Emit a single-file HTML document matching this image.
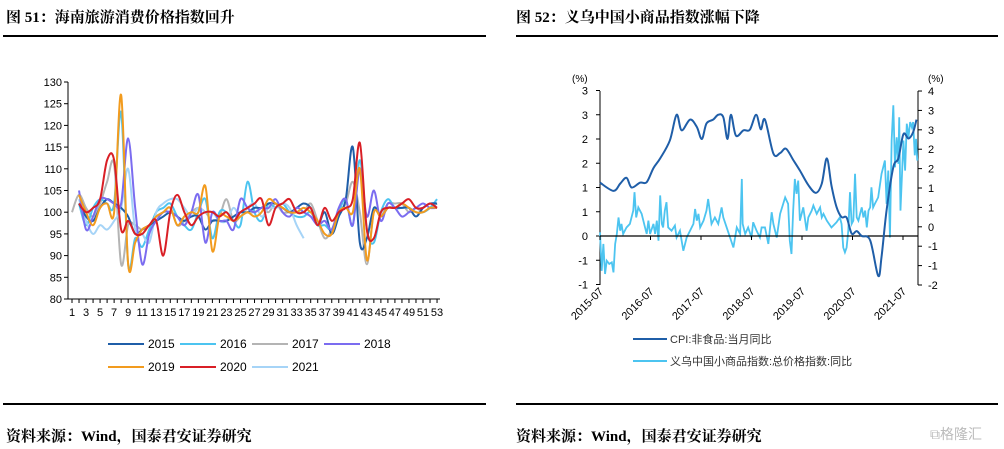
<!DOCTYPE html>
<html><head><meta charset="utf-8"><style>
body{margin:0;width:1004px;height:449px;background:#fff;overflow:hidden;font-family:"Liberation Sans","Noto Sans CJK SC",sans-serif}
.t{position:absolute;font-family:"Liberation Serif","Noto Serif CJK SC",serif;font-weight:bold;font-size:15px;color:#000}
.r{position:absolute;height:1.5px;background:#000}
</style></head><body>
<div class="t" style="left:6px;top:6px">图 51：海南旅游消费价格指数回升</div>
<div class="t" style="left:516px;top:6px">图 52：义乌中国小商品指数涨幅下降</div>
<div class="r" style="left:3px;top:35px;width:483px"></div>
<div class="r" style="left:516px;top:35px;width:482px"></div>
<div class="r" style="left:3px;top:403px;width:483px"></div>
<div class="r" style="left:516px;top:403px;width:482px"></div>
<div class="t" style="left:6px;top:425px">资料来源：Wind，国泰君安证券研究</div>
<div class="t" style="left:516px;top:425px">资料来源：Wind，国泰君安证券研究</div>
<div style="position:absolute;left:930px;top:424px;font-size:14px;color:#bbb">⧉格隆汇</div>
<svg id="c" width="1004" height="449" style="position:absolute;left:0;top:0"></svg>
<script>
const weeks=[];for(let i=1;i<=53;i++)weeks.push(i);
const s2015=[null,102,99,98,101,103,102,101,99,95,96,97,98,99,100,99,98,99,99,96,98,98,98,99,100,100,101,101,102,102,101,100,101,102,101,97,100,95,99,103,115,93,94,101,99,101,101,101,101,99,101,102,102];
const s2016=[null,102,97,101,103,102,102,123,88,94,92,96,100,101,102,99,97,96,100,103,94,100,100,98,97,107,100,98,102,101,102,100,99,99,100,97,97,96,100,103,97,112,96,93,100,103,101,101,101,100,100,101,103];
const s2017=[100,104,101,99,102,107,111,88,97,97,96,97,99,100,101,97,98,100,101,100,98,99,103,98,99,100,100,101,100,102,100,100,100,100,102,98,94,96,100,102,107,100,88,100,99,102,102,102,100,101,100,101,102];
const s2018=[null,105,96,99,103,103,102,102,117,101,88,95,98,100,100,99,97,100,104,93,100,98,98,96,103,101,100,101,101,103,100,99,101,100,99,97,98,96,101,103,97,110,99,105,98,102,101,99,100,101,102,101,101];
const s2019=[null,104,100,97,101,102,100,127,88,93,96,97,99,100,101,97,99,100,100,106,91,99,99,98,99,100,99,100,103,102,101,100,100,101,100,98,95,95,100,101,100,110,89,100,99,101,101,102,101,100,100,101,101];
const s2020=[null,102,100,101,103,112,112,96,98,95,95,97,98,90,100,104,100,97,99,100,100,99,100,98,100,101,102,103,97,101,102,103,100,100,101,97,101,98,100,101,103,116,96,94,100,101,101,102,103,101,101,102,101];
const s2021=[null,103,98,95,97,96,98,101,110,96,95,93,100,102,103,103,101,99,101,100,100,98,98,101,99,101,102,99,101,101,102,101,97,94];
const leftTicks=[80,85,90,95,100,105,110,115,120,125,130];
const cpiMonths=[0,3.2,4.8,6.3,7.5,9.5,11.1,12.7,14.3,16.6,18.2,19.4,21.4,23.0,24.2,25.3,26.9,28.1,29.3,30.3,31.1,32.3,34.1,35.6,37.1,38.2,39.2,41.2,42.8,44.2,45.9,47.5,49.5,51.3,52.7,53.9,55.0,56.2,57.4,58.6,59.8,61.0,62.2,64.2,66.1,66.9,68.1,69.7,70.9,72.1,73.3,74.4,75.2];
const cpiValues=[1.1,0.93,1.08,1.2,1.0,1.1,1.11,1.4,1.6,1.97,2.5,2.18,2.4,2.25,2.0,2.32,2.4,2.5,2.45,2.0,2.5,2.07,2.18,2.19,2.5,2.2,2.4,1.7,1.71,1.8,1.57,1.35,1.05,0.89,1.08,1.6,1.04,0.6,0.39,0.38,0.05,0.1,0,-0.09,-0.82,-0.43,0.53,1.42,1.6,2.1,2.01,2.14,2.4];
const ywMonths=[0,0.4,0.8,1.2,1.6,2.2,2.8,3.2,3.6,4.0,4.4,4.8,5.1,5.5,6.3,7.1,7.9,8.2,8.6,9.1,9.9,10.7,11.1,11.5,11.9,12.7,13.1,13.5,13.9,14.3,14.7,15.0,15.4,15.8,16.2,17.0,17.8,18.2,19.0,19.8,20.6,21.4,22.2,22.6,23.0,23.4,23.8,24.6,25.3,25.7,26.5,27.3,28.1,28.9,29.3,30.1,30.9,31.7,32.5,33.3,33.7,33.9,34.5,35.2,36.0,36.4,37.2,38.0,38.4,39.2,40.0,40.8,41.2,42.0,42.8,44.0,44.7,45.1,45.5,45.9,46.3,46.7,47.1,47.5,48.3,49.1,49.5,50.3,50.7,51.5,52.3,52.7,53.1,53.9,55.0,56.2,57.0,57.4,57.8,58.2,58.6,59.0,59.4,59.8,60.2,60.6,61.0,61.4,61.8,62.2,62.6,63.0,63.4,63.8,64.2,64.5,64.9,65.3,66.1,66.9,67.7,68.1,68.5,68.9,69.3,69.7,70.1,70.5,70.9,71.1,71.4,72.1,72.5,72.9,73.3,73.7,74.1,74.4,74.8,75.1,75.4];
const ywValues=[-0.37,-1.56,-0.73,-1.66,-1.25,-1.35,-1.3,-1.61,-0.73,-0.42,0.09,-0.32,-0.11,-0.42,-0.22,-0.11,0.3,0.87,0.09,0.4,0.2,-0.22,-0.42,-0.01,-0.42,-0.11,-0.42,-0.01,-0.63,0.77,-0.11,-0.22,0.3,0.56,-0.22,-0.32,-0.16,-0.53,-0.32,-0.94,-0.53,-0.32,-0.11,0.35,-0.01,0.2,-0.22,-0.01,0.3,0.66,-0.11,0.09,-0.11,0.4,0.09,-0.22,-0.53,-0.84,-0.22,-0.42,1.28,-0.11,-0.42,-0.22,-0.53,-0.06,-0.32,-0.53,-0.22,-0.22,-0.73,0.25,-0.11,-0.53,0.2,0.71,0.51,-0.63,-1.04,0.3,1.28,0.82,1.23,-0.01,0.4,-0.32,0.09,0.3,0.46,0.2,0.4,0.09,0.2,-0.01,-0.22,-0.06,0.09,-0.11,-0.84,-0.99,-0.84,-0.32,0.87,-0.11,-0.01,1.44,0.09,-0.01,0.2,0.4,0.09,0.3,-0.22,0.3,0.4,1.02,0.4,0.51,0.71,1.44,1.85,0.51,1.54,-0.53,2.47,3.56,1.64,2.57,1.75,3.19,0.3,2.47,1.54,2.99,2.57,3.04,2.88,3.04,2.01,2.52,1.85];
const rLeftTicks=[-1,-0.5,0,0.5,1,1.5,2,2.5,3];
const rLeftLabels=["-1","-1","0","1","1","2","2","3","3"];
const rRightTicks=[-2,-1.4,-0.8,-0.2,0.4,1,1.6,2.2,2.8,3.4,4];
const rRightLabels=["-2","-1","-1","0","1","1","2","2","3","3","4"];
const yearLabels=["2015-07","2016-07","2017-07","2018-07","2019-07","2020-07","2021-07"];

const svg=document.getElementById('c');const NS='http://www.w3.org/2000/svg';
function mk(t,a,txt){const e=document.createElementNS(NS,t);for(const k in a)e.setAttribute(k,a[k]);if(txt!=null)e.textContent=txt;svg.appendChild(e);return e;}
// left chart
const lx=i=>72+(i-1)*7.02, ly=v=>299-(v-80)*4.34;
let e=mk('line',{x1:68,y1:82,x2:68,y2:299,stroke:'#000'});


e=mk('line',{x1:68,y1:299,x2:440,y2:299,stroke:'#000'});


leftTicks.forEach(v=>{mk('line',{x1:64,x2:68,y1:ly(v),y2:ly(v),stroke:'#000'});
 e=mk('text',{x:62,y:ly(v)+4,'text-anchor':'end','font-size':11},v);
 
 });
weeks.forEach(w=>{mk('line',{x1:lx(w),x2:lx(w),y1:299,y2:303,stroke:'#000'});
 if(w%2){e=mk('text',{x:lx(w),y:316,'text-anchor':'middle','font-size':11},w);
 
 }});
function smooth(pts){if(!pts.length)return'';let d='M'+pts[0][0]+','+pts[0][1];
 for(let i=0;i<pts.length-1;i++){const p0=pts[i-1]||pts[i],p1=pts[i],p2=pts[i+1],p3=pts[i+2]||p2;
 d+=' C'+(p1[0]+(p2[0]-p0[0])/6)+','+(p1[1]+(p2[1]-p0[1])/6)+' '+(p2[0]-(p3[0]-p1[0])/6)+','+(p2[1]-(p3[1]-p1[1])/6)+' '+p2[0]+','+p2[1];}return d;}
const series=[['2015',s2015,'#1f5ea8'],['2016',s2016,'#4cc4f0'],['2017',s2017,'#b4b4b4'],['2018',s2018,'#7b6cf0'],['2019',s2019,'#f29b1e'],['2020',s2020,'#d91f26'],['2021',s2021,'#a6d4f7']];
const drawOrder=[2,1,6,0,3,4,5];
drawOrder.forEach(k=>{const [n,arr,c]=series[k];const pts=[];arr.forEach((v,i)=>{if(v!=null)pts.push([lx(weeks[i]),ly(v)]);});
 e=mk('path',{d:smooth(pts),fill:'none',stroke:c,'stroke-width':2});
 
 });
series.forEach(([n,arr,c],k)=>{const row=k<4?0:1,col=k<4?k:k-4;const x=108+col*72,y=344+row*23;
 mk('line',{x1:x,x2:x+36,y1:y,y2:y,stroke:c,'stroke-width':2});
 e=mk('text',{x:x+40,y:y+4,'font-size':12},n);
 
 });
// right chart
const rx=m=>600+m*50.5/12, ryL=v=>236-v*48.5, ryR=v=>285-(v+2)*32.33;
e=mk('line',{x1:600,y1:91,x2:600,y2:285,stroke:'#000'});


e=mk('line',{x1:918,y1:91,x2:918,y2:285,stroke:'#000'});


rLeftTicks.forEach((v,i)=>{mk('line',{x1:596,x2:600,y1:ryL(v),y2:ryL(v),stroke:'#000'});
 e=mk('text',{x:588,y:ryL(v)+4,'text-anchor':'end','font-size':11},rLeftLabels[i]);
 
 });
rRightTicks.forEach((v,i)=>{mk('line',{x1:918,x2:922,y1:ryR(v),y2:ryR(v),stroke:'#000'});
 e=mk('text',{x:928,y:ryR(v)+4,'font-size':11},rRightLabels[i]);
 
 });
e=mk('text',{x:572,y:82,'font-size':10},'(%)');


e=mk('text',{x:928,y:82,'font-size':10},'(%)');


const yw=[];for(let i=0;i<Math.min(ywMonths.length,ywValues.length);i++)yw.push(rx(ywMonths[i])+','+ryR(ywValues[i]));
e=mk('polyline',{points:yw.join(' '),fill:'none',stroke:'#4cc4f0','stroke-width':1.8});


e=mk('line',{x1:600,y1:236,x2:918,y2:236,stroke:'#000','stroke-width':1.2});


const cp=cpiMonths.map((m,i)=>[rx(m),ryL(cpiValues[i])]);
e=mk('path',{d:smooth(cp),fill:'none',stroke:'#1f5ea8','stroke-width':2});


yearLabels.forEach((l,i)=>{const x=rx(i*12);mk('line',{x1:x,x2:x,y1:236,y2:240,stroke:'#000'});
 e=mk('text',{x:x+4,y:292,'text-anchor':'end','font-size':11,transform:'rotate(-45 '+(x+4)+' 292)'},l);
 
 });
[['CPI:非食品:当月同比','#1f5ea8',339],['义乌中国小商品指数:总价格指数:同比','#4cc4f0',361]].forEach(([t,c,y],k)=>{
 mk('line',{x1:633,x2:667,y1:y,y2:y,stroke:c,'stroke-width':2});
 e=mk('text',{x:670,y:y+4,'font-size':11,fill:'#333'},t);
 
 });
</script>
</body></html>
